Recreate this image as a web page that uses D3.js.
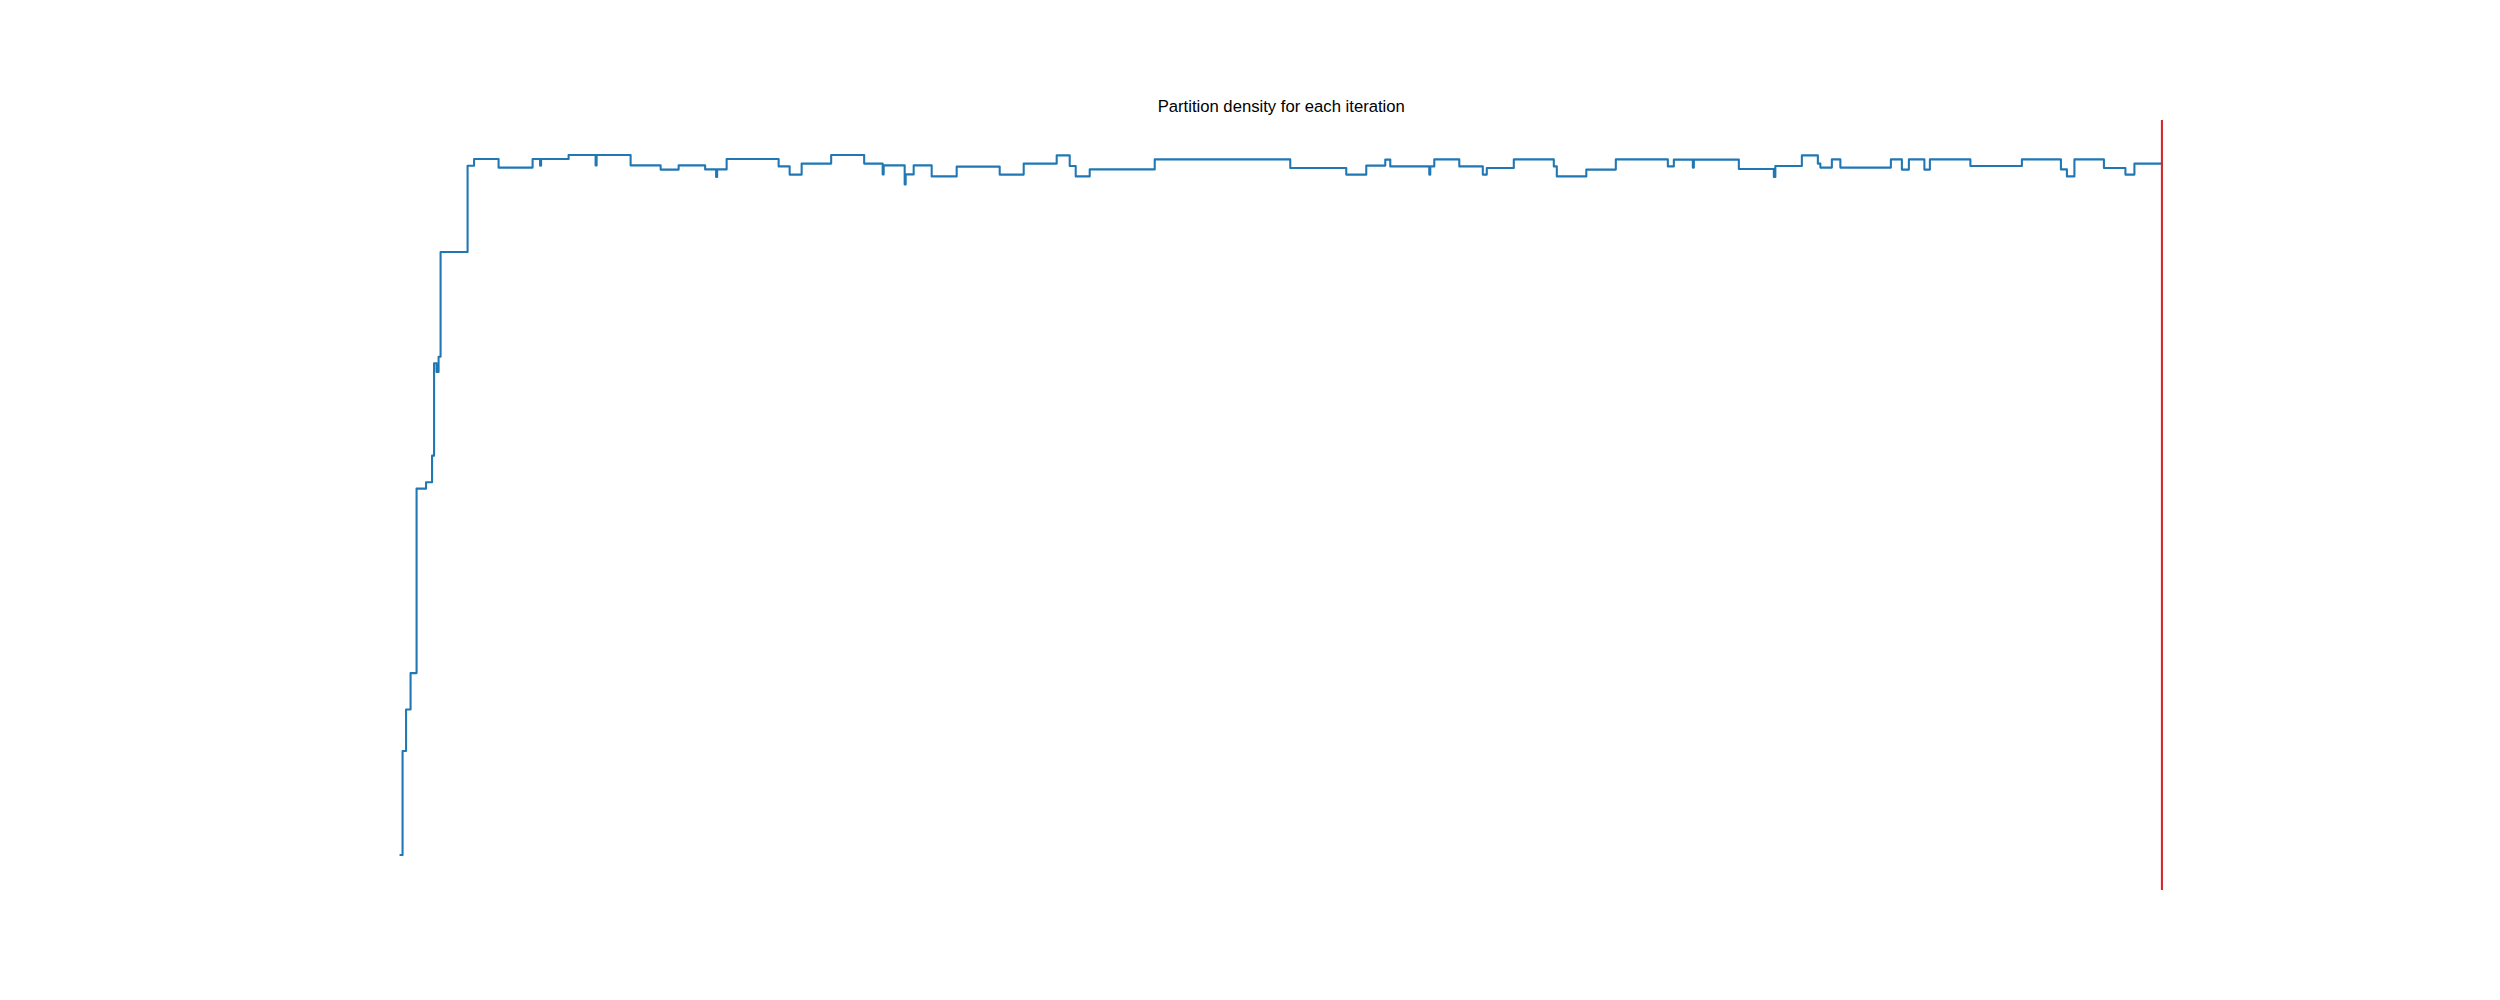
<!DOCTYPE html>
<html>
<head>
<meta charset="utf-8">
<script src="https://cdn.jsdelivr.net/npm/d3@7"></script>
<style>
  body { margin: 0; background: #fff; }
  svg { display: block; }
</style>
</head>
<body>
<svg id="chart" width="2500" height="1000"></svg>
<script>
// iteration at which the partition density changes, and the density from there on
const iterations = [
  0, 4, 11, 20, 32, 51, 63, 67, 72, 76,
  80, 134, 147, 196, 264, 279, 281, 336, 390, 392,
  460, 520, 556, 609, 631, 633, 652, 756, 778, 802,
  861, 927, 964, 966, 1008, 1010, 1026, 1062, 1112, 1198,
  1246, 1312, 1338, 1350, 1378, 1508, 1779, 1891, 1931, 1969,
  1979, 2057, 2059, 2067, 2117, 2164, 2172, 2226, 2306, 2312,
  2371, 2430, 2534, 2546, 2584, 2586, 2676, 2746, 2749, 2802,
  2834, 2839, 2862, 2879, 2980, 3002, 3016, 3047, 3058, 3139,
  3242, 3320, 3332, 3347, 3406, 3449, 3467, 3522];
const density = [
  0.0200, 0.0720, 0.0928, 0.1110, 0.2033, 0.2065, 0.2198, 0.2660, 0.2617, 0.2693,
  0.3217, 0.3648, 0.3682, 0.3639, 0.3682, 0.3649, 0.3682, 0.3702, 0.3650, 0.3702,
  0.3650, 0.3629, 0.3650, 0.3630, 0.3592, 0.3630, 0.3682, 0.3645, 0.3604, 0.3659,
  0.3702, 0.3659, 0.3605, 0.3650, 0.3554, 0.3605, 0.3650, 0.3595, 0.3644, 0.3604,
  0.3659, 0.3700, 0.3647, 0.3595, 0.3630, 0.3680, 0.3637, 0.3604, 0.3649, 0.3679,
  0.3645, 0.3604, 0.3645, 0.3680, 0.3645, 0.3604, 0.3637, 0.3680, 0.3645, 0.3595,
  0.3629, 0.3680, 0.3645, 0.3679, 0.3639, 0.3679, 0.3632, 0.3592, 0.3647, 0.3700,
  0.3659, 0.3639, 0.3680, 0.3639, 0.3680, 0.3629, 0.3680, 0.3629, 0.3680, 0.3647,
  0.3680, 0.3630, 0.3595, 0.3680, 0.3637, 0.3604, 0.3659, 0.3659];
const markedIteration = 3522;   // red marker
const title = 'Partition density for each iteration';

const W = 2500, H = 1000;
const ax = {left: 312.5, right: 2250, top: 120, bottom: 890}; // axes box (axis hidden)

const pts = iterations.map((it, i) => ({it: it, d: density[i]}));

// 5% padding round the data, the way matplotlib autoscales
function padded(ext) {
  const m = (ext[1] - ext[0]) * 0.05;
  return [ext[0] - m, ext[1] + m];
}

const x = d3.scaleLinear().domain(padded(d3.extent(iterations))).range([ax.left, ax.right]);
const y = d3.scaleLinear().domain(padded(d3.extent(density))).range([ax.bottom, ax.top]);

const svg = d3.select('#chart');
svg.append('rect').attr('width', W).attr('height', H).attr('fill', '#fff');

const line = d3.line().x(d => x(d.it)).y(d => y(d.d)).curve(d3.curveStepAfter);

svg.append('path').datum(pts)
  .attr('d', line)
  .attr('fill', 'none')
  .attr('stroke', '#1f77b4')
  .attr('stroke-width', 2.08)
  .attr('stroke-linejoin', 'round')
  .attr('stroke-linecap', 'square');

// vertical marker over the full height of the axes
svg.append('line')
  .attr('x1', x(markedIteration)).attr('x2', x(markedIteration))
  .attr('y1', ax.top).attr('y2', ax.bottom)
  .attr('stroke', '#d62728')
  .attr('stroke-width', 2.08);

svg.append('text')
  .attr('x', (ax.left + ax.right) / 2)
  .attr('y', ax.top - 8.33)
  .attr('text-anchor', 'middle')
  .attr('font-family', '"Liberation Sans", Arial, sans-serif')
  .attr('font-size', 16.67)
  .attr('fill', '#000')
  .text(title);
</script>
</body>
</html>
